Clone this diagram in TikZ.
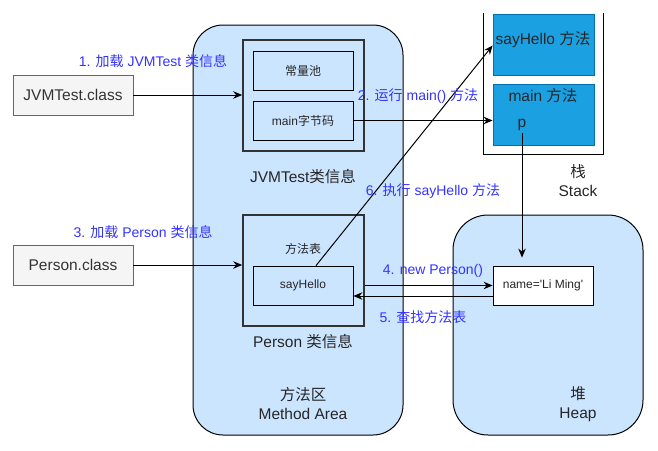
\documentclass[tikz,border=0pt]{standalone}
\usepackage{fontspec}
\setmainfont{Liberation Sans}
\newfontfamily\cjk{Noto Sans CJK SC}
\usetikzlibrary{arrows.meta}
\definecolor{areablue}{HTML}{CCE5FF}
\definecolor{stackblue}{HTML}{1BA1E2}
\definecolor{stackline}{HTML}{006EAF}
\definecolor{stepblue}{HTML}{3333FF}
\definecolor{filegray}{HTML}{F5F5F5}
\tikzset{
  area/.style={draw, line width=1pt, fill=areablue, rounded corners=30pt},
  classfile/.style={draw=black!60, fill=filegray, text=black!80, minimum width=120pt, minimum height=40pt, font=\fontsize{15.5}{18}\selectfont},
  infobox/.style={draw=black!80, line width=1.6pt, fill=areablue, minimum width=121pt, minimum height=111pt},
  smallbox/.style={draw, line width=0.8pt, minimum width=100pt, minimum height=39pt, font=\fontsize{12}{14}\selectfont, text=black!85},
  stackbox/.style={draw=stackline, line width=0.8pt, fill=stackblue, minimum width=101pt, minimum height=61pt},
  biglabel/.style={inner sep=0pt, text=black!85, align=center, font=\fontsize{15.5}{19}\selectfont},
  smalllabel/.style={inner sep=0pt, text=black!85, font=\fontsize{12}{14}\selectfont},
  steplabel/.style={inner sep=0pt, text=stepblue, font=\fontsize{14}{16}\selectfont},
  arr/.style={-{Stealth[length=9pt, width=7.5pt]}, line width=1pt}
}
\begin{document}
\begin{tikzpicture}[x=1pt, y=-1pt]
    \useasboundingbox (0,0) rectangle (658,450);
    % Draw the method area and the heap
    \draw[area] (193,25) rectangle (403,435);
    \draw[area, rounded corners=35pt] (453,215) rectangle (643,435);
    \node[biglabel] (marea) at (303,404) {{\cjk 方法区}\\Method Area};
    \node[biglabel] (heap) at (578,404) {{\cjk 堆}\\Heap};
    % Draw the class files
    \node[classfile] (jvmclass) at (73,95) {JVMTest.class};
    \node[classfile] (personclass) at (73,265) {Person.class};
    % Draw the class infos
    \node[infobox] (jvminfo) at (303.5,95.5) {};
    \node[smallbox] (pool) at (303,70.5) {{\cjk 常量池}};
    \node[smallbox] (mainbc) at (303,120.5) {main{\cjk 字节码}};
    \node[biglabel] (jvmlabel) at (303,177) {JVMTest{\cjk 类信息}};
    \node[infobox] (personinfo) at (303.5,270.5) {};
    \node[smalllabel] (mtable) at (303,249) {{\cjk 方法表}};
    \node[smallbox] (sayhello) at (303,285.5) {sayHello};
    \node[biglabel] (personlabel) at (303,342) {Person {\cjk 类信息}};
    % Draw the stack
    \draw[line width=1pt] (483,13) -- (483,154) -- (603,154) -- (603,13);
    \node[stackbox] (sayframe) at (543.5,44.5) {};
    \node[biglabel] (saylabel) at (543,40) {sayHello {\cjk 方法}};
    \node[stackbox] (mainframe) at (543.5,114.5) {};
    \node[biglabel] (mainlabel) at (543,96) {main {\cjk 方法}};
    \node[biglabel, inner sep=2pt] (p) at (522,125) {p};
    \node[biglabel] (stack) at (578,181) {{\cjk 栈}\\Stack};
    % Draw the object on the heap
    \node[smallbox, fill=white] (obj) at (543,285.5) {name=\textquotesingle Li Ming\textquotesingle};
    % Draw the arrows
    \draw[arr] (jvmclass.east) -- (jvmclass.east -| jvminfo.west);
    \draw[arr] (mainbc.east) -- (mainbc.east -| mainframe.west);
    \draw[arr] (personclass.east) -- (personclass.east -| personinfo.west);
    \draw[arr] (obj.west -| personinfo.east) -- (obj.west);
    \coordinate (back) at ([yshift=-10.5pt]obj.west);
    \draw[arr] (back) -- (back -| sayhello.east);
    \draw[arr, shorten >=8pt] (p.south) -- (p.south |- obj.north);
    \draw[arr] ([xshift=13pt]sayhello.north) -- ([yshift=-1pt]sayframe.west);
    % Draw the step labels
    \node[steplabel] (s1) at (153,61) {1. {\cjk 加载} JVMTest {\cjk 类信息}};
    \node[steplabel] (s2) at (418,96) {2. {\cjk 运行} main() {\cjk 方法}};
    \node[steplabel] (s3) at (143,232) {3. {\cjk 加载} Person {\cjk 类信息}};
    \node[steplabel] (s4) at (433,271) {4. new Person()};
    \node[steplabel] (s5) at (423,317) {5. {\cjk 查找方法表}};
    \node[steplabel] (s6) at (433,191) {6. {\cjk 执行} sayHello {\cjk 方法}};
\end{tikzpicture}
\end{document}
